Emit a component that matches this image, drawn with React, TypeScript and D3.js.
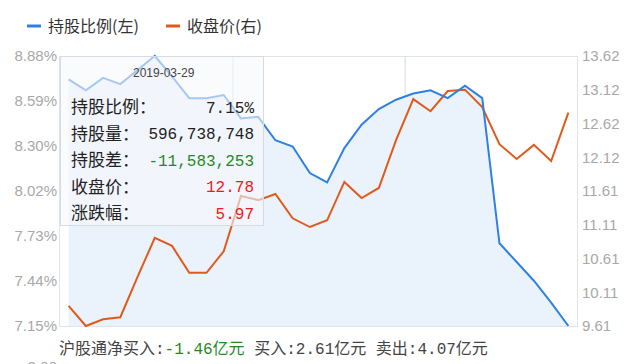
import { useEffect, useRef } from "react";
import { scaleBand, scaleLinear, line, area, select } from "d3";

const W = 640;
const H = 364;
const MARGIN = { top: 56, right: 63, bottom: 38, left: 60 };

// 持股比例 (%) — left axis
const holdRatio = [
  8.73, 8.66, 8.74, 8.7, 8.79, 8.88, 8.75, 8.61, 8.61, 8.63,
  8.48, 8.49, 8.34, 8.3, 8.13, 8.07, 8.29, 8.44, 8.54, 8.6,
  8.64, 8.66, 8.61, 8.69, 8.61, 7.68, 7.56, 7.44, 7.3, 7.15,
];
// 收盘价 — right axis
const closePrice = [
  9.91, 9.61, 9.71, 9.74, 10.34, 10.92, 10.8, 10.4, 10.4, 10.72,
  11.54, 11.48, 11.57, 11.21, 11.08, 11.18, 11.75, 11.51, 11.66, 12.37,
  12.98, 12.8, 13.1, 13.12, 12.86, 12.31, 12.09, 12.3, 12.06, 12.78,
];

const leftTicks = ["7.15%", "7.44%", "7.73%", "8.02%", "8.30%", "8.59%", "8.88%"];
const rightTicks = ["9.61", "10.11", "10.61", "11.11", "11.61", "12.12", "12.62", "13.12", "13.62"];
const leftDomain = [7.15, 8.88];
const rightDomain = [9.61, 13.62];

const legendItems = [
  { name: "持股比例(左)", color: "#2f80e0" },
  { name: "收盘价(右)", color: "#e05a1c" },
];

const tipDate = "2019-03-29";
const tipRows = [
  { label: "持股比例：", value: "7.15%", color: "#222" },
  { label: "持股量：", value: "596,738,748", color: "#222" },
  { label: "持股差：", value: "-11,583,253", color: "#1f8a1f" },
  { label: "收盘价：", value: "12.78", color: "#f01818" },
  { label: "涨跌幅：", value: "5.97", color: "#f01818" },
];

const summary = [
  { text: "沪股通净买入:", color: "#444" },
  { text: "-1.46亿元", color: "#1f8a1f" },
  { text: " 买入:2.61亿元", color: "#444" },
  { text: " 卖出:4.07亿元", color: "#444" },
];

const CJK = "'Noto Sans CJK SC', 'Noto Sans', sans-serif";
const MONO = "'Liberation Mono', 'Noto Sans CJK SC', monospace";

export default function App() {
  const x0 = MARGIN.left;
  const x1 = W - MARGIN.right;
  const y0 = MARGIN.top;
  const y1 = H - MARGIN.bottom;

  const x = scaleBand<number>()
    .domain(holdRatio.map((_, i) => i))
    .range([x0, x1]);
  const cx = (i: number) => (x(i) ?? 0) + x.bandwidth() / 2;
  const yL = scaleLinear().domain(leftDomain).range([y1, y0]);
  const yR = scaleLinear().domain(rightDomain).range([y1, y0]);

  const blueLine = line<number>().x((_, i) => cx(i)).y((d) => yL(d));
  const blueArea = area<number>().x((_, i) => cx(i)).y0(y1).y1((d) => yL(d));
  const orangeLine = line<number>().x((_, i) => cx(i)).y((d) => yR(d));

  const leftRef = useRef<SVGGElement>(null);
  const rightRef = useRef<SVGGElement>(null);

  useEffect(() => {
    const stepL = (leftDomain[1] - leftDomain[0]) / (leftTicks.length - 1);
    select(leftRef.current)
      .selectAll("text")
      .data(leftTicks)
      .join("text")
      .attr("x", x0 - 3)
      .attr("y", (_, i) => yL(leftDomain[0] + i * stepL))
      .attr("dy", "0.36em")
      .attr("text-anchor", "end")
      .text((d) => d);
    const stepR = (rightDomain[1] - rightDomain[0]) / (rightTicks.length - 1);
    select(rightRef.current)
      .selectAll("text")
      .data(rightTicks)
      .join("text")
      .attr("x", x1 + 5)
      .attr("y", (_, i) => yR(rightDomain[0] + i * stepR))
      .attr("dy", "0.36em")
      .attr("text-anchor", "start")
      .text((d) => d);
  }, []);

  const splits = [10, 20];
  const tipX = x0;
  const tipY = y0;
  const tipW = 203;
  const tipH = 169;

  return (
    <svg
      width={W}
      height={H}
      style={{ position: "absolute", left: 0, top: 0, background: "#fff" }}
    >
      {/* legend */}
      <g fontFamily={CJK} fontSize={16} fill="#333">
        {legendItems.map((d, i) => {
          const lx = 27 + i * 139;
          return (
            <g key={d.name}>
              <line x1={lx} x2={lx + 14} y1={26} y2={26} stroke={d.color} strokeWidth={3} />
              <text x={lx + 21} y={26} dy="0.36em">{d.name}</text>
            </g>
          );
        })}
      </g>

      {/* frame */}
      <rect x={x0 - 0.5} y={y0 + 0.5} width={x1 - x0 + 1} height={y1 - y0} fill="none" stroke="#dfe3ea" />
      {splits.map((s) => (
        <line key={s} x1={(x(s) ?? 0) + 0.5} x2={(x(s) ?? 0) + 0.5} y1={y0} y2={y1} stroke="#d3dce8" />
      ))}

      <path d={blueArea(holdRatio) ?? undefined} fill="#eaf2fc" />
      <path d={orangeLine(closePrice) ?? undefined} fill="none" stroke="#e05a1c" strokeWidth={2} />
      <path d={blueLine(holdRatio) ?? undefined} fill="none" stroke="#2f80e0" strokeWidth={2} />

      <g ref={leftRef} fontFamily="'Liberation Sans', Arial, sans-serif" fontSize={15} fill="#a8a8a8" />
      <g ref={rightRef} fontFamily="'Liberation Sans', Arial, sans-serif" fontSize={15} fill="#a8a8a8" />

      {/* tooltip */}
      <g>
        <rect
          x={tipX + 0.5}
          y={tipY + 0.5}
          width={tipW}
          height={tipH}
          fill="rgba(246,248,252,0.6)"
          stroke="#d6dbe3"
        />
        <text x={tipX + 73} y={tipY + 17} dy="0.36em" fontFamily="'Liberation Sans', sans-serif" fontSize={12} fill="#444">
          {tipDate}
        </text>
        {tipRows.map((r, i) => (
          <g key={r.label}>
            <text x={tipX + 11} y={tipY + 51 + i * 26.5} dy="0.36em" fontFamily={CJK} fontSize={17} fill="#222">
              {r.label}
            </text>
            <text
              x={tipX + 194}
              y={tipY + 51 + i * 26.5}
              dy="0.36em"
              textAnchor="end"
              fontFamily={MONO}
              fontSize={16}
              fill={r.color}
            >
              {r.value}
            </text>
          </g>
        ))}
      </g>

      {/* summary */}
      <text x={59} y={348} dy="0.36em" fontFamily={MONO} fontSize={16} xmlSpace="preserve">
        {summary.map((s) => (
          <tspan key={s.text} fill={s.color}>{s.text}</tspan>
        ))}
      </text>
      <text x={57} y={372} textAnchor="end" fontFamily="'Liberation Sans', sans-serif" fontSize={15} fill="#a8a8a8">
        9.00
      </text>
    </svg>
  );
}
